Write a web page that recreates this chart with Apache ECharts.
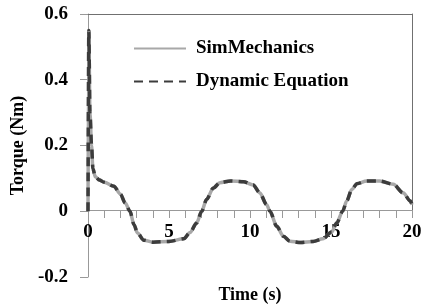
<!DOCTYPE html>
<html lang="en">
<head>
    <meta charset="UTF-8">
    <title>Torque</title>
    <script src="https://cdn.jsdelivr.net/npm/echarts@6/dist/echarts.min.js"></script>
    <style>
        html, body { margin: 0; padding: 0; background: #fff; }
        .chart { width: 422px; height: 306px; }
    </style>
</head>
<body>
<div class="chart"></div>
<script>
    let chart = echarts.init(document.querySelector('.chart'));

    // time (s)
    let timeS = [0, 0.05, 0.12, 0.22, 0.3, 0.45, 0.7, 1.0, 1.6, 2.0,
        2.3, 2.59, 2.84, 3.05, 3.45, 4.0, 5.0, 5.9, 6.3, 6.7,
        7.02, 7.32, 7.74, 8.15, 8.8, 9.6, 10.2, 10.6, 11.03, 11.23,
        11.65, 12.06, 12.47, 13.1, 13.9, 14.5, 15.04, 15.35, 15.72, 15.97,
        16.28, 16.6, 17.2, 18.0, 18.85, 19.45, 19.9, 20];

    // torque (Nm)
    let simMechanics = [0, 0.55, 0.30, 0.2, 0.13, 0.105, 0.095, 0.088, 0.076, 0.052,
        0.025, 0, -0.041, -0.066, -0.088, -0.094, -0.092, -0.084, -0.065, -0.036,
        0, 0.036, 0.071, 0.087, 0.092, 0.09, 0.08, 0.056, 0.02, 0,
        -0.046, -0.076, -0.091, -0.095, -0.092, -0.084, -0.063, -0.036, 0, 0.031,
        0.066, 0.084, 0.092, 0.092, 0.082, 0.056, 0.031, 0.02];
    let dynamicEq = [0, 0.55, 0.30, 0.2, 0.13, 0.105, 0.095, 0.088, 0.076, 0.052,
        0.025, 0, -0.041, -0.066, -0.088, -0.094, -0.092, -0.084, -0.065, -0.036,
        0, 0.036, 0.071, 0.087, 0.092, 0.09, 0.08, 0.056, 0.02, 0,
        -0.046, -0.076, -0.091, -0.095, -0.092, -0.084, -0.063, -0.036, 0, 0.031,
        0.066, 0.084, 0.092, 0.092, 0.082, 0.056, 0.031, 0.02];

    let seriesNames = ['SimMechanics', 'Dynamic Equation'];

    let font = '"Liberation Serif", "Times New Roman", serif';
    let axisColor = '#999';
    let borderColor = '#707070';

    let pair = (xs, ys) => xs.map((x, i) => [x, ys[i]]);

    let option = {
        animation: false,
        textStyle: { fontFamily: font },
        legend: {
            orient: 'vertical',
            left: 128,
            top: 34,
            itemWidth: 52,
            itemHeight: 12,
            itemGap: 14,
            itemStyle: { opacity: 0 },
            textStyle: {
                fontFamily: font, fontWeight: 'bold', fontSize: 19, color: '#000',
                padding: [0, 0, 0, 5]
            },
            data: seriesNames
        },
        grid: [
            { left: 88, right: 10, top: 14, bottom: 29, outerBoundsMode: 'none' },
            // frame on top and right, only down to the zero line
            { left: 88, right: 10, top: 14, height: 196, outerBoundsMode: 'none' }
        ],
        xAxis: [
            {
                type: 'value',
                min: 0,
                max: 20,
                interval: 1,
                // axis sits on the zero line (0.2 of 0.8 up the plot)
                offset: -67,
                name: 'Time (s)',
                nameLocation: 'middle',
                nameGap: 76,
                nameTextStyle: { fontFamily: font, fontWeight: 'bold', fontSize: 18, color: '#000' },
                axisLine: { onZero: false, lineStyle: { color: axisColor, width: 1 } },
                axisTick: { length: 8, lineStyle: { color: axisColor } },
                axisLabel: {
                    margin: 13,
                    fontFamily: font, fontWeight: 'bold', fontSize: 19, color: '#000',
                    formatter: v => (v % 5 === 0 ? String(v) : '')
                },
                splitLine: { show: false }
            },
            {
                gridIndex: 1,
                type: 'value',
                position: 'top',
                min: 0,
                max: 1,
                axisLine: { onZero: false, lineStyle: { color: borderColor } },
                axisTick: { show: false },
                axisLabel: { show: false },
                splitLine: { show: false }
            }
        ],
        yAxis: [
            {
                type: 'value',
                min: -0.2,
                max: 0.6,
                interval: 0.2,
                name: 'Torque (Nm)',
                nameLocation: 'middle',
                nameGap: 56,
                nameTextStyle: { fontFamily: font, fontWeight: 'bold', fontSize: 18, color: '#000' },
                axisLine: { show: true, onZero: false, lineStyle: { color: axisColor, width: 1 } },
                axisTick: { show: true, length: 8, lineStyle: { color: axisColor } },
                axisLabel: {
                    margin: 20,
                    fontFamily: font, fontWeight: 'bold', fontSize: 19, color: '#000',
                    formatter: v => String(Math.round(v * 10) / 10)
                },
                splitLine: { show: false }
            },
            {
                gridIndex: 1,
                type: 'value',
                position: 'right',
                min: 0,
                max: 1,
                axisLine: { show: true, onZero: false, lineStyle: { color: borderColor } },
                axisTick: { show: false },
                axisLabel: { show: false },
                splitLine: { show: false }
            }
        ],
        series: [
            {
                name: seriesNames[0],
                type: 'line',
                data: pair(timeS, simMechanics),
                symbol: 'none',
                smooth: 0.3,
                smoothMonotone: 'x',
                lineStyle: { color: '#a8a8a8', width: 3.5 },
                itemStyle: { color: '#a8a8a8' }
            },
            {
                name: seriesNames[1],
                type: 'line',
                data: pair(timeS, dynamicEq),
                symbol: 'none',
                smooth: 0.3,
                smoothMonotone: 'x',
                lineStyle: { color: '#3c3c3c', width: 3.5, type: [9, 6] },
                itemStyle: { color: '#3c3c3c' }
            }
        ]
    };

    chart.setOption(option);
</script>
</body>
</html>
